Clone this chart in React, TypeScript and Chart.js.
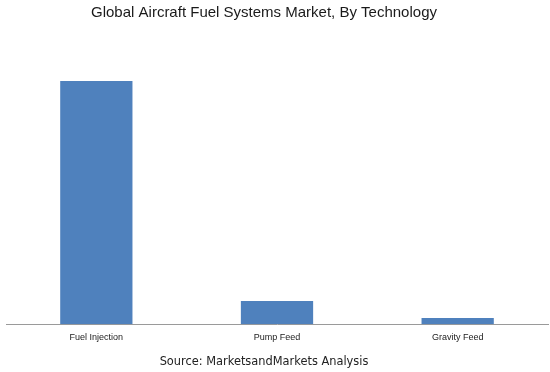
import React, { useEffect, useRef } from "react";
import { Chart, registerables } from "chart.js";

Chart.register(...registerables);

const titleText = "Global Aircraft Fuel Systems Market, By Technology";
const sourceText = "Source: MarketsandMarkets Analysis";
const categories = ["Fuel Injection", "Pump Feed", "Gravity Feed"];
const marketValues = [100, 9.5, 2.5];
const yMax = 116.5;

const textPlugin = {
  id: "texts",
  afterDraw(chart: any) {
    const ctx = chart.ctx;
    const cx = 264;
    ctx.save();
    ctx.textAlign = "center";
    ctx.textBaseline = "middle";
    ctx.fillStyle = "#1a1a1a";
    ctx.font = "15px 'Liberation Sans', Arial, sans-serif";
    ctx.fillText(titleText, cx, 13);
    ctx.fillStyle = "#222";
    ctx.font = "11.4px 'DejaVu Sans', Verdana, sans-serif";
    ctx.fillText(sourceText, cx, 362);
    ctx.restore();
  },
};

export default function App() {
  const ref = useRef<HTMLCanvasElement>(null);
  useEffect(() => {
    if (!ref.current) return;
    const chart = new Chart(ref.current, {
      type: "bar",
      data: {
        labels: categories,
        datasets: [
          {
            data: marketValues,
            backgroundColor: "#4F81BD",
            borderWidth: 0,
            barPercentage: 0.4,
            categoryPercentage: 1,
          },
        ],
      },
      options: {
        animation: false,
        responsive: false,
        maintainAspectRatio: false,
        layout: { padding: { left: 6, right: 2, top: 41, bottom: 29 } },
        plugins: {
          legend: { display: false },
          title: { display: false },
          tooltip: { enabled: false },
        },
        scales: {
          x: {
            grid: { display: false },
            border: { display: true, color: "#9a9a9a", width: 1 },
            ticks: {
              color: "#222",
              padding: 0,
              font: { size: 9, family: "'Liberation Sans', Arial, sans-serif" },
            },
          },
          y: {
            display: false,
            min: 0,
            max: yMax,
          },
        },
      },
      plugins: [textPlugin],
    });
    return () => chart.destroy();
  }, []);
  return (
    <div style={{ position: "absolute", left: 0, top: 0, width: 550, height: 372, background: "#fff" }}>
      <canvas ref={ref} width={550} height={372} style={{ width: 550, height: 372 }} />
    </div>
  );
}
